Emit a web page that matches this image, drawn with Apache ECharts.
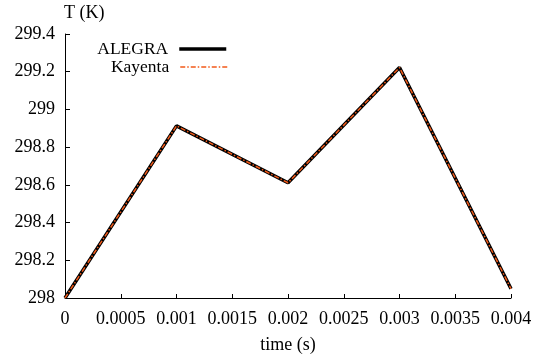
<!DOCTYPE html>
<html>
<head>
<meta charset="utf-8">
<script src="https://cdn.jsdelivr.net/npm/echarts@6/dist/echarts.min.js"></script>
<style>
  html, body { margin: 0; padding: 0; background: #fff; }
  #chart { width: 537px; height: 354px; }
</style>
</head>
<body>
<div id="chart"></div>
<script>
// Temperature history at the probe point
const times = [0, 0.001, 0.002, 0.003, 0.004];
const alegraT = [298.0, 298.913, 298.611, 299.222, 298.049];
const kayentaT = [298.0, 298.913, 298.611, 299.222, 298.049];

const xTickLabels = ['0', '0.0005', '0.001', '0.0015', '0.002', '0.0025', '0.003', '0.0035', '0.004'];
const yTickLabels = ['298', '298.2', '298.4', '298.6', '298.8', '299', '299.2', '299.4'];

const FONT = '"Liberation Serif", "DejaVu Serif", serif';
const ORANGE = '#f25a1a';

const chart = echarts.init(document.getElementById('chart'));

function pairs(xs, ys) {
  return xs.map((x, i) => [x, ys[i]]);
}

function legendFor(name, top, lineStyle) {
  return {
    data: [name],
    right: 304, top: top,
    orient: 'vertical',
    align: 'right',
    itemWidth: 47, itemHeight: 14,
    itemStyle: { opacity: 0 },
    lineStyle: lineStyle,
    textStyle: { fontFamily: FONT, fontSize: 17.5, color: '#000', padding: [0, 6, 0, 0] }
  };
}

chart.setOption({
  animation: false,
  backgroundColor: '#ffffff',
  grid: { left: 65, right: 26, top: 34, bottom: 56, containLabel: false, outerBoundsMode: 'none' },
  legend: [
    legendFor('ALEGRA', 35, { color: '#000', width: 3.5 }),
    legendFor('Kayenta', 53, { color: ORANGE, width: 1.5, type: [5, 2, 1.5, 2] })
  ],
  xAxis: {
    type: 'value',
    min: 0, max: 0.004, interval: 0.0005,
    name: 'time (s)',
    nameLocation: 'middle',
    nameGap: 38,
    nameTextStyle: { fontFamily: FONT, fontSize: 18, color: '#000' },
    axisLine: { lineStyle: { color: '#000', width: 1 } },
    axisTick: { inside: true, length: 4, lineStyle: { color: '#000' } },
    axisLabel: {
      fontFamily: FONT, fontSize: 18, color: '#000', margin: 12,
      formatter: (v) => xTickLabels[Math.round(v / 0.0005)]
    },
    splitLine: { show: false }
  },
  yAxis: {
    type: 'value',
    min: 298, max: 299.4, interval: 0.2,
    name: 'T (K)',
    nameLocation: 'end',
    nameGap: 12,
    nameTextStyle: { fontFamily: FONT, fontSize: 18, color: '#000', align: 'left', padding: [0, 0, 0, -1] },
    axisLine: { show: true, lineStyle: { color: '#000', width: 1 } },
    axisTick: { show: true, inside: true, length: 5, lineStyle: { color: '#000' } },
    axisLabel: {
      fontFamily: FONT, fontSize: 18, color: '#000', margin: 10,
      formatter: (v) => yTickLabels[Math.round((v - 298) / 0.2)]
    },
    splitLine: { show: false }
  },
  series: [
    {
      name: 'ALEGRA',
      type: 'line',
      data: pairs(times, alegraT),
      symbol: 'none',
      color: '#000',
      lineStyle: { color: '#000', width: 3.5 },
      z: 2
    },
    {
      name: 'Kayenta',
      type: 'line',
      data: pairs(times, kayentaT),
      symbol: 'none',
      color: ORANGE,
      lineStyle: { color: ORANGE, width: 1.5, type: [5, 2, 1.5, 2] },
      z: 3
    }
  ]
});
</script>
</body>
</html>
